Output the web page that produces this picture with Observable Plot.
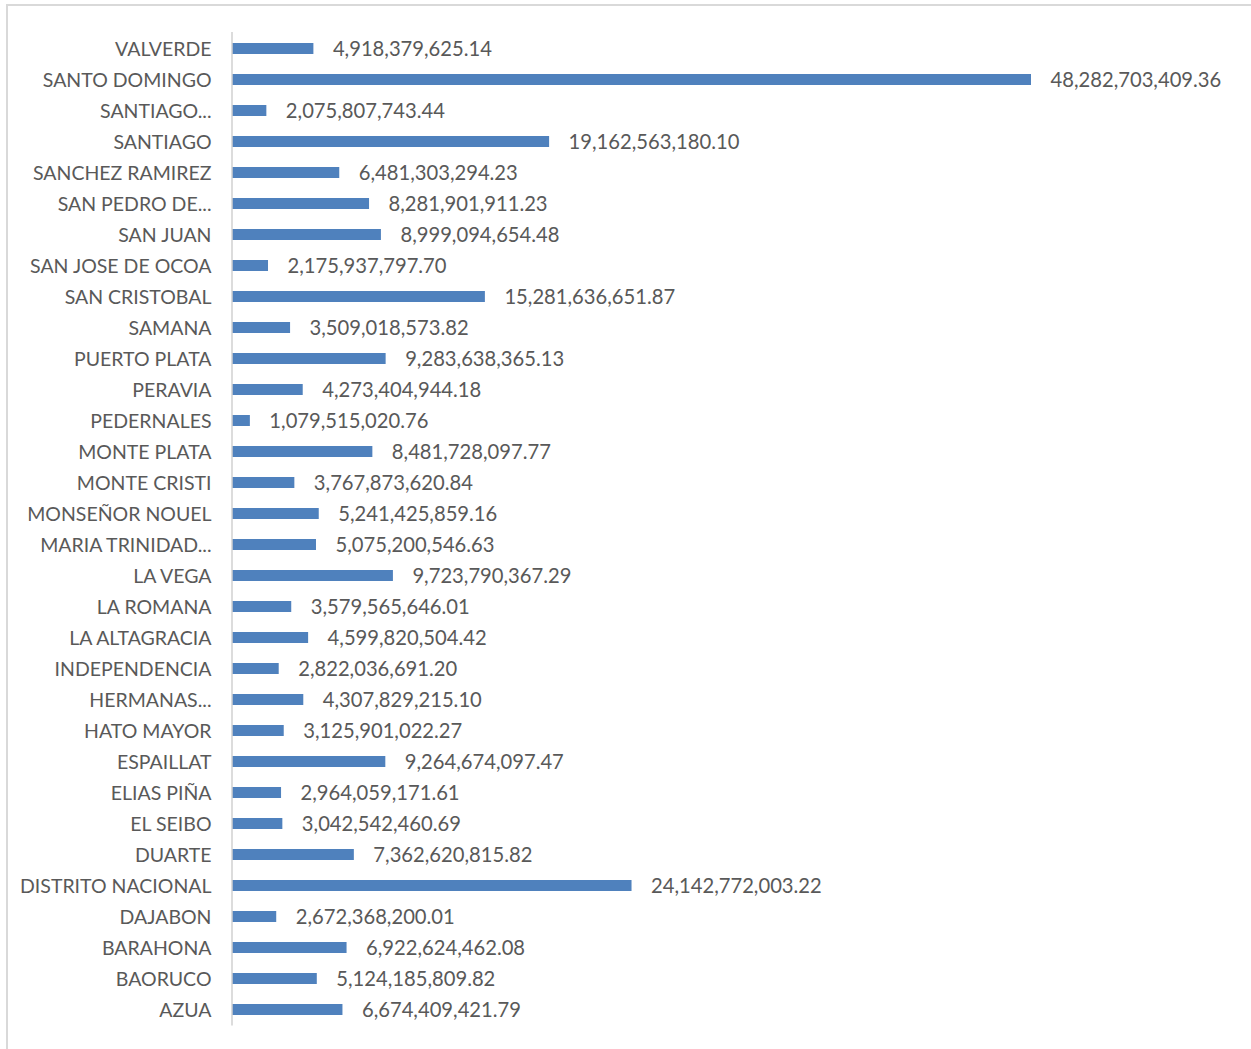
<!DOCTYPE html>
<html>
<head>
<meta charset="utf-8">
<script src="https://cdn.jsdelivr.net/npm/d3@7"></script>
<script src="https://cdn.jsdelivr.net/npm/@observablehq/plot@0.6"></script>
<style>
  html, body { margin: 0; padding: 0; background: #fff; }
  #wrap { position: relative; width: 1251px; height: 1049px; overflow: hidden; }
  #frame { position: absolute; left: 6px; top: 4px; width: 1250px; height: 1060px; border: 2px solid #d9d9d9; box-sizing: border-box; }
  #chart { position: absolute; left: 0; top: 0; }
</style>
</head>
<body>
<div id="wrap"><div id="frame"></div><div id="chart"></div></div>
<script>
const provinces = [
  "VALVERDE", "SANTO DOMINGO", "SANTIAGO...", "SANTIAGO", "SANCHEZ RAMIREZ",
  "SAN PEDRO DE...", "SAN JUAN", "SAN JOSE DE OCOA", "SAN CRISTOBAL", "SAMANA",
  "PUERTO PLATA", "PERAVIA", "PEDERNALES", "MONTE PLATA", "MONTE CRISTI",
  "MONSEÑOR NOUEL", "MARIA TRINIDAD...", "LA VEGA", "LA ROMANA", "LA ALTAGRACIA",
  "INDEPENDENCIA", "HERMANAS...", "HATO MAYOR", "ESPAILLAT", "ELIAS PIÑA",
  "EL SEIBO", "DUARTE", "DISTRITO NACIONAL", "DAJABON", "BARAHONA",
  "BAORUCO", "AZUA"
];
const amounts = [
  4918379625.14, 48282703409.36, 2075807743.44, 19162563180.10, 6481303294.23,
  8281901911.23, 8999094654.48, 2175937797.70, 15281636651.87, 3509018573.82,
  9283638365.13, 4273404944.18, 1079515020.76, 8481728097.77, 3767873620.84,
  5241425859.16, 5075200546.63, 9723790367.29, 3579565646.01, 4599820504.42,
  2822036691.20, 4307829215.10, 3125901022.27, 9264674097.47, 2964059171.61,
  3042542460.69, 7362620815.82, 24142772003.22, 2672368200.01, 6922624462.08,
  5124185809.82, 6674409421.79
];

const data = provinces.map((p, i) => ({province: p, amount: amounts[i]}));
const fmt = d3.format(",.2f");
const font = "Lato, 'Open Sans', sans-serif";

const chart = Plot.plot({
  width: 1251,
  height: 1049,
  marginLeft: 232,
  marginRight: 220,
  marginTop: 32,
  marginBottom: 23.5,
  style: {fontFamily: font, background: "transparent"},
  x: {domain: [0, 48282703409.36], axis: null},
  y: {domain: provinces, paddingInner: 0.64, paddingOuter: 0.32, label: null},
  marks: [
    Plot.axisY({tickSize: 0, tickPadding: 21, fontSize: 19.5, fill: "#595959", label: null, dy: 0.5}),
    Plot.barX(data, {y: "province", x: "amount", fill: "#4F81BD"}),
    Plot.ruleX([0], {stroke: "#d0d0d0", strokeWidth: 1.5, dx: -0.5}),
    Plot.text(data, {y: "province", x: "amount", text: d => fmt(d.amount), textAnchor: "start", dx: 19, dy: 0.5, fontSize: 20.2, fill: "#595959"})
  ]
});
document.getElementById("chart").appendChild(chart);
</script>
</body>
</html>
